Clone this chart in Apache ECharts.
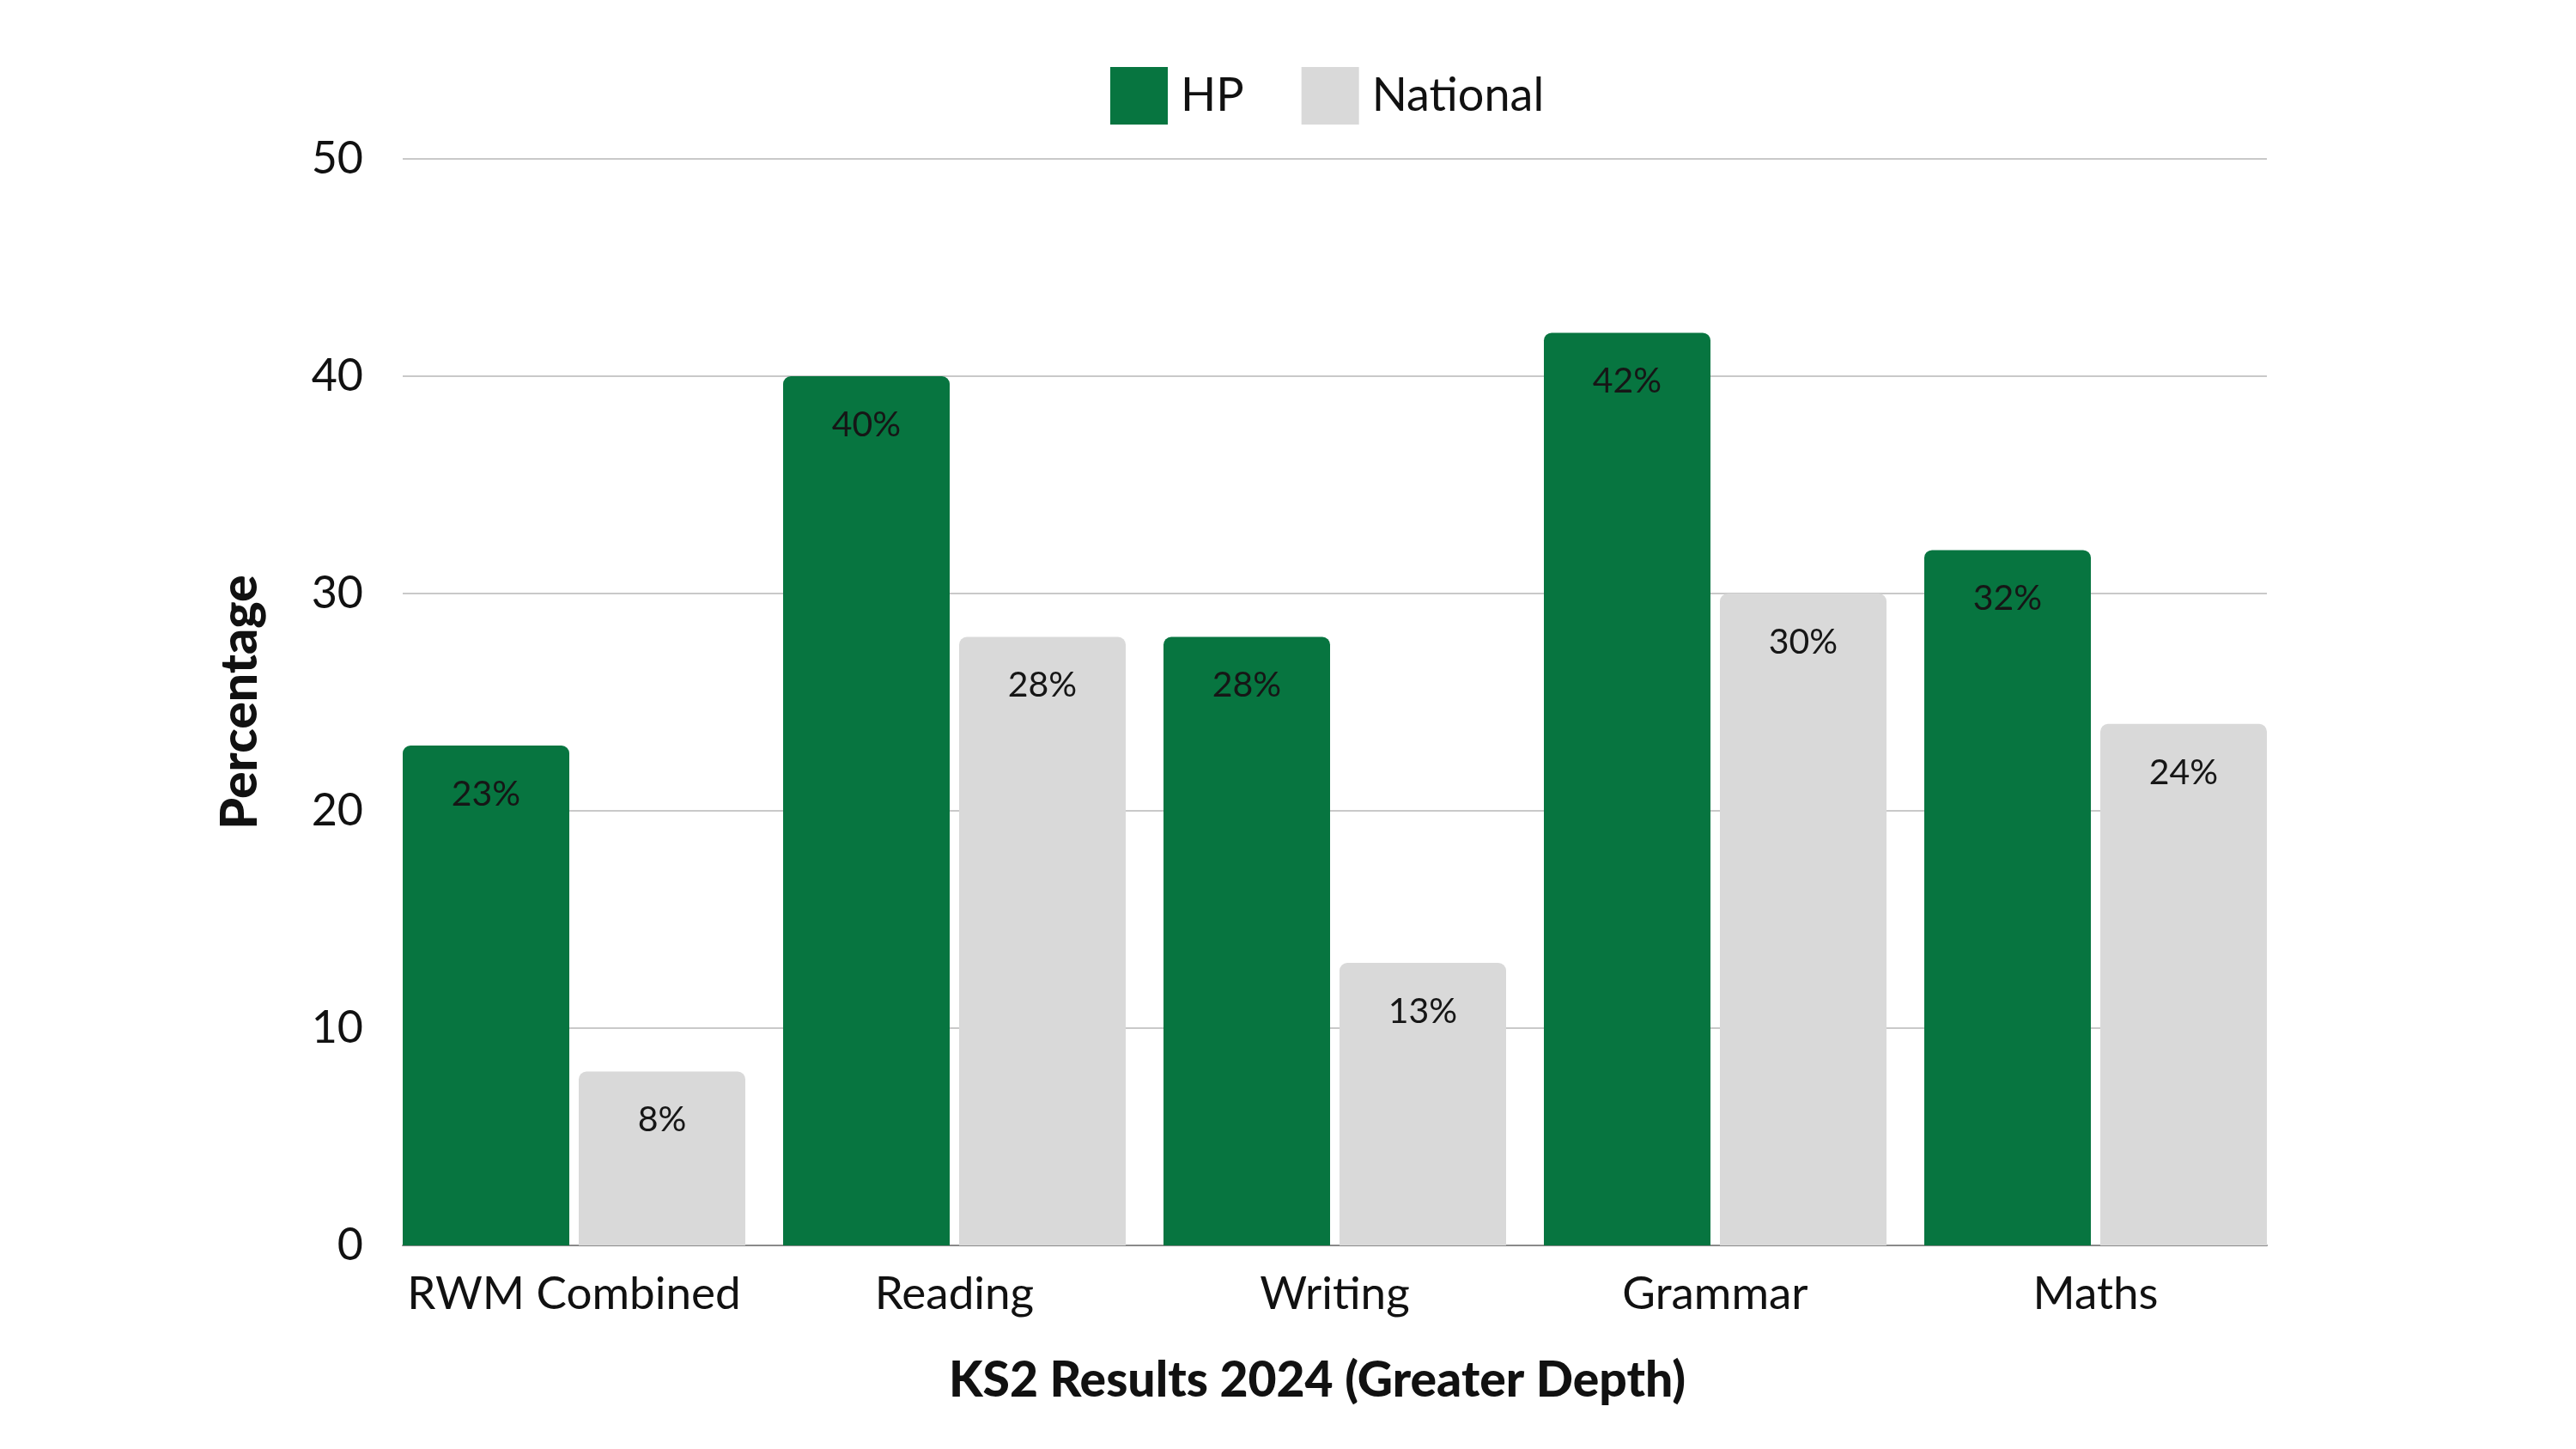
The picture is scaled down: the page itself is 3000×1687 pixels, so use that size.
<!DOCTYPE html>
<html>
<head>
<meta charset="utf-8">
<script src="https://cdn.jsdelivr.net/npm/echarts@6/dist/echarts.min.js"></script>
<style>
html,body{margin:0;padding:0;background:#fff;}
#chart{width:3000px;height:1687px;}
</style>
</head>
<body>
<div id="chart"></div>
<script>
const categories = ['RWM Combined', 'Reading', 'Writing', 'Grammar', 'Maths'];
const hpValues = [23, 40, 28, 42, 32];
const nationalValues = [8, 28, 13, 30, 24];
const seriesNames = ['HP', 'National'];
const yTicks = [0, 10, 20, 30, 40, 50];
const chartTitle = 'KS2 Results 2024 (Greater Depth)';
const yAxisTitle = 'Percentage';

const FONT = 'Lato';
const chart = echarts.init(document.getElementById('chart'), null, {renderer: 'canvas'});
const labelCfg = {
  show: true,
  position: 'insideTop',
  distance: 36,
  formatter: p => p.value + '%',
  color: '#161616',
  fontFamily: FONT,
  fontSize: 41
};
chart.setOption({
  backgroundColor: '#ffffff',
  animation: false,
  title: {
    text: chartTitle,
    left: 1529,
    textAlign: 'center',
    top: 1574,
    textStyle: {fontFamily: FONT, fontWeight: 900, fontSize: 57, color: '#111'}
  },
  legend: {
    data: seriesNames,
    left: 1288,
    top: 73,
    itemWidth: 67,
    itemHeight: 67,
    itemGap: 67,
    icon: 'rect',
    textStyle: {fontFamily: FONT, fontSize: 54, color: '#111', padding: [0, 0, 0, 10]}
  },
  grid: [
    {left: 447, right: 338, top: 185, bottom: 237, containLabel: false},
    {left: 469, right: 360, top: 185, bottom: 237, containLabel: false}
  ],
  xAxis: [
    {
      type: 'category', gridIndex: 0, data: categories,
      axisLine: {show: false}, axisTick: {show: false},
      axisLabel: {fontFamily: FONT, fontSize: 53, color: '#111', margin: 30, interval: 0},
      splitLine: {show: false}
    },
    {
      type: 'value', gridIndex: 1, min: 0, max: 1,
      axisLine: {show: true, lineStyle: {color: '#8a8a8a', width: 2}},
      axisTick: {show: false}, axisLabel: {show: false}, splitLine: {show: false}
    }
  ],
  yAxis: [
    {
      type: 'value', gridIndex: 0, min: 0, max: 50, interval: 10,
      show: false, splitLine: {show: false}
    },
    {
      type: 'value', gridIndex: 1, min: 0, max: 50, interval: 10,
      axisLine: {show: false}, axisTick: {show: false},
      axisLabel: {fontFamily: FONT, fontSize: 52, color: '#111', margin: 46,
        formatter: v => (yTicks.indexOf(v) >= 0 ? String(v) : '')},
      splitLine: {show: true, lineStyle: {color: '#c9c9c9', width: 2}},
      name: yAxisTitle,
      nameLocation: 'middle',
      nameGap: 160,
      nameTextStyle: {fontFamily: FONT, fontWeight: 900, fontSize: 59, color: '#111', padding: [0, 0, 0, 0]}
    }
  ],
  series: [
    {
      name: seriesNames[0], type: 'bar', xAxisIndex: 0, yAxisIndex: 0,
      data: hpValues, barWidth: 194, barGap: '5.67%',
      itemStyle: {color: '#077540', borderRadius: [9, 9, 0, 0]},
      label: labelCfg, z: 3
    },
    {
      name: seriesNames[1], type: 'bar', xAxisIndex: 0, yAxisIndex: 0,
      data: nationalValues, barWidth: 194, barGap: '5.67%',
      itemStyle: {color: '#d9d9d9', borderRadius: [9, 9, 0, 0]},
      label: labelCfg, z: 3
    }
  ]
});
</script>
</body>
</html>
